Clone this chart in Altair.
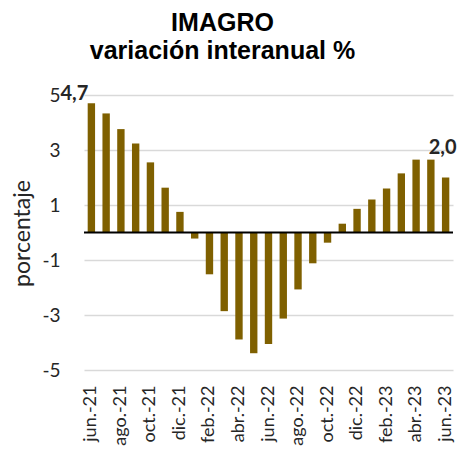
import altair as alt
import pandas as pd

months = ["jun.-21", "jul.-21", "ago.-21", "sep.-21", "oct.-21", "nov.-21", "dic.-21",
          "ene.-22", "feb.-22", "mar.-22", "abr.-22", "may.-22", "jun.-22", "jul.-22",
          "ago.-22", "sep.-22", "oct.-22", "nov.-22", "dic.-22", "ene.-23", "feb.-23",
          "mar.-23", "abr.-23", "may.-23", "jun.-23"]
values = [4.7, 4.33, 3.76, 3.24, 2.55, 1.63, 0.75, -0.22, -1.52, -2.86, -3.89, -4.39,
          -4.05, -3.13, -2.07, -1.12, -0.37, 0.32, 0.86, 1.2, 1.6, 2.15, 2.65, 2.65, 2.0]
label_months = ["jun.-21", "jun.-23"]
label_texts = ["4,7", "2,0"]
label_values = [4.7, 2.0]
y_ticks = [-5, -3, -1, 1, 3, 5]

df = pd.DataFrame({"mes": months, "valor": values})
lab = pd.DataFrame({"mes": label_months, "valor": label_values, "txt": label_texts})

xscale = alt.Scale(domain=months, paddingInner=0.5, paddingOuter=0.25)
yscale = alt.Scale(domain=[-5, 5], nice=False, zero=False)

bars = alt.Chart(df).mark_bar(color="#7F6000").encode(
    x=alt.X("mes:N", scale=xscale, sort=months,
            axis=alt.Axis(title=None, values=months[::2], labelAngle=270, labelAlign="right",
                          labelBaseline="middle", domain=False, ticks=False, labelPadding=15,
                          labelFont="Lato", labelFontSize=18, labelColor="#262626")),
    y=alt.Y("valor:Q", scale=yscale,
            axis=alt.Axis(title="porcentaje", values=y_ticks, domain=False, ticks=False,
                          labelExpr="'' + datum.value",
                          labelFont="Lato", labelFontSize=19, labelColor="#262626",
                          labelPadding=24, gridColor="#d9d9d9", gridWidth=1.5,
                          titleFont="Lato", titleFontSize=23, titleFontWeight="normal",
                          titleColor="#262626", titleX=-62, titleY=138,
                          titleBaseline="middle", titleAlign="center")),
)

zero = alt.Chart(pd.DataFrame({"z": [0]})).mark_rule(color="black", strokeWidth=2).encode(
    y=alt.Y("z:Q", scale=yscale)
)

t1 = alt.Chart(lab.iloc[[0]]).mark_text(font="Lato", fontSize=20, fontWeight="bold",
                                         color="#262626", dx=-17, dy=1, baseline="bottom").encode(
    x=alt.X("mes:N", scale=xscale, sort=months),
    y=alt.Y("valor:Q", scale=yscale),
    text="txt:N",
)
t2 = alt.Chart(lab.iloc[[1]]).mark_text(font="Lato", fontSize=20, fontWeight="bold",
                                         color="#262626", dx=-3, dy=-20, baseline="bottom").encode(
    x=alt.X("mes:N", scale=xscale, sort=months),
    y=alt.Y("valor:Q", scale=yscale),
    text="txt:N",
)

chart = alt.layer(bars, zero, t1, t2).properties(
    width=369, height=275,
    autosize=alt.AutoSizeParams(type="none"),
    padding={"left": 76, "top": 87, "right": 4, "bottom": 76},
    title=alt.Title(["IMAGRO", "variación interanual %"], font="Liberation Sans",
                    fontSize=25, fontWeight="bold", color="black", anchor="middle",
                    dx=-46, offset=20, lineHeight=28),
).configure_view(stroke=None)

chart.save("out.html", embed_options={"renderer": "svg", "actions": False})
